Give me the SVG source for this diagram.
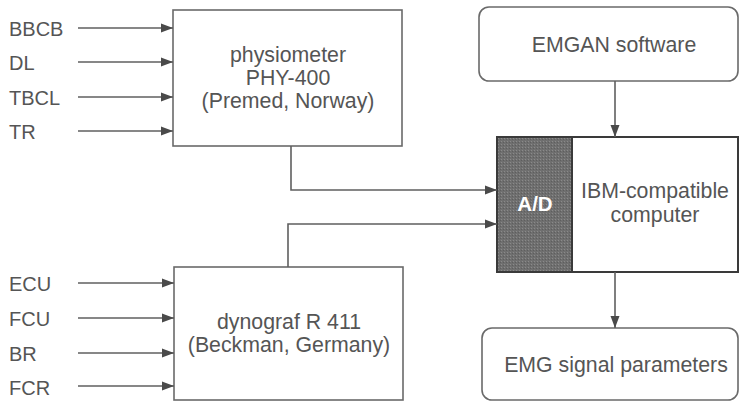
<svg xmlns="http://www.w3.org/2000/svg" width="740" height="402" viewBox="0 0 740 402">
  <defs>
    <marker id="arr" viewBox="0 0 12 10" refX="12" refY="5" markerWidth="12" markerHeight="10" markerUnits="userSpaceOnUse" orient="auto">
      <path d="M0,0.5 L12,5 L0,9.5 Z" fill="#4a4a4a"/>
    </marker>
    <pattern id="stip" width="3" height="3" patternUnits="userSpaceOnUse">
      <rect width="3" height="3" fill="#6f6f6f"/>
      <rect width="1" height="1" fill="#8a8a8a"/>
      <rect x="2" y="1" width="1" height="1" fill="#5e5e5e"/>
    </pattern>
    <style>
      .box { fill: #fff; stroke: #6a6a6a; stroke-width: 1.6; }
      .line { fill: none; stroke: #5f5f5f; stroke-width: 1.6; }
      .t { font-family: "Liberation Sans", Arial, sans-serif; font-size: 21.3px; fill: #555; }
      .lbl { font-family: "Liberation Sans", Arial, sans-serif; font-size: 20px; fill: #555; }
      .c { text-anchor: middle; }
    </style>
  </defs>
  <rect width="740" height="402" fill="#fff"/>

  <g id="physiometer">
    <rect class="box" x="173" y="10" width="229" height="136"/>
    <text class="t c" x="288" y="62">physiometer</text>
    <text class="t c" x="288" y="85">PHY-400</text>
    <text class="t c" x="288" y="108">(Premed, Norway)</text>
  </g>

  <g id="dynograf">
    <rect class="box" x="174" y="267" width="229" height="133"/>
    <text class="t c" x="289" y="329">dynograf R 411</text>
    <text class="t c" x="289" y="352">(Beckman, Germany)</text>
  </g>

  <g id="computer">
    <rect x="497" y="137" width="241" height="135" fill="#fff" stroke="#3a3a3a" stroke-width="2"/>
    <rect x="497" y="137" width="75" height="135" fill="url(#stip)" stroke="#3a3a3a" stroke-width="2"/>
    <text x="535" y="211" font-family="Liberation Sans, Arial, sans-serif" font-size="20.5" font-weight="bold" fill="#fff" text-anchor="middle">A/D</text>
    <text class="t c" x="655" y="198">IBM-compatible</text>
    <text class="t c" x="655" y="222">computer</text>
  </g>

  <g id="emgan">
    <rect class="box" x="479" y="7" width="259" height="74" rx="10"/>
    <text class="t c" x="614" y="52">EMGAN software</text>
  </g>

  <g id="emg-params">
    <rect class="box" x="482" y="328" width="256" height="72" rx="10"/>
    <text class="t c" x="616" y="372">EMG signal parameters</text>
  </g>

  <g id="labels">
    <text class="lbl" x="9" y="36">BBCB</text>
    <text class="lbl" x="9" y="70">DL</text>
    <text class="lbl" x="9" y="105">TBCL</text>
    <text class="lbl" x="9" y="139">TR</text>
    <text class="lbl" x="9" y="291">ECU</text>
    <text class="lbl" x="9" y="326">FCU</text>
    <text class="lbl" x="9" y="361">BR</text>
    <text class="lbl" x="9" y="395">FCR</text>
  </g>

  <g id="connectors">
    <line class="line" x1="78" y1="28" x2="173" y2="28" marker-end="url(#arr)"/>
    <line class="line" x1="78" y1="62" x2="173" y2="62" marker-end="url(#arr)"/>
    <line class="line" x1="78" y1="97" x2="173" y2="97" marker-end="url(#arr)"/>
    <line class="line" x1="78" y1="131" x2="173" y2="131" marker-end="url(#arr)"/>
    <line class="line" x1="78" y1="283" x2="174" y2="283" marker-end="url(#arr)"/>
    <line class="line" x1="78" y1="318" x2="174" y2="318" marker-end="url(#arr)"/>
    <line class="line" x1="78" y1="353" x2="174" y2="353" marker-end="url(#arr)"/>
    <line class="line" x1="78" y1="386" x2="174" y2="386" marker-end="url(#arr)"/>
    <polyline class="line" points="291,146 291,190 497,190" marker-end="url(#arr)"/>
    <polyline class="line" points="288,267 288,224 497,224" marker-end="url(#arr)"/>
    <line class="line" x1="615" y1="81" x2="615" y2="137" marker-end="url(#arr)"/>
    <line class="line" x1="615" y1="272" x2="615" y2="328" marker-end="url(#arr)"/>
  </g>
</svg>
